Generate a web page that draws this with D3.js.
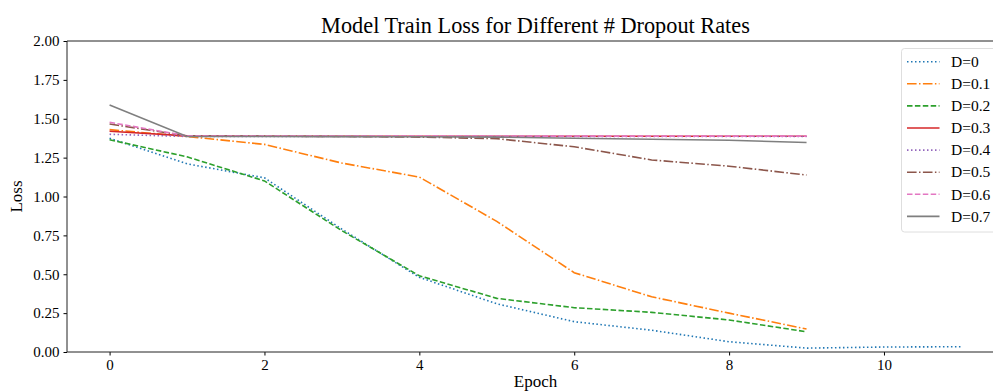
<!DOCTYPE html>
<html>
<head>
<meta charset="utf-8">
<script src="https://cdn.jsdelivr.net/npm/d3@7"></script>
<style>
  html, body { margin: 0; padding: 0; background: #fff; }
  svg { display: block; font-family: "Liberation Serif", "DejaVu Serif", serif; }
</style>
</head>
<body>
<div id="chart"></div>
<script>
// --- data ---
const labels = ['D=0', 'D=0.1', 'D=0.2', 'D=0.3', 'D=0.4', 'D=0.5', 'D=0.6', 'D=0.7'];
const colors = ['#1f77b4', '#ff7f0e', '#2ca02c', '#d62728', '#9467bd', '#8c564b', '#e377c2', '#7f7f7f'];
const dashes = ['1.5,2.5', '9.6,2.4,1.5,2.4', '5.5,2.4', null, '1.5,2.5', '9.6,2.4,1.5,2.4', '5.5,2.4', null];

const d0  = [1.375, 1.21, 1.12, 0.79, 0.48, 0.31, 0.195, 0.14, 0.066, 0.025, 0.032, 0.034];
const d01 = [1.43, 1.386, 1.335, 1.215, 1.125, 0.84, 0.51, 0.355, 0.25, 0.148];
const d02 = [1.365, 1.255, 1.10, 0.78, 0.49, 0.345, 0.285, 0.255, 0.206, 0.13];
const d03 = [1.42, 1.39, 1.387, 1.387, 1.387, 1.387, 1.387, 1.387, 1.387, 1.387];
const d04 = [1.40, 1.386, 1.386, 1.386, 1.386, 1.386, 1.386, 1.386, 1.386, 1.386];
const d05 = [1.466, 1.39, 1.388, 1.386, 1.382, 1.372, 1.32, 1.235, 1.195, 1.138];
const d06 = [1.477, 1.39, 1.388, 1.388, 1.388, 1.388, 1.388, 1.388, 1.388, 1.388];
const d07 = [1.588, 1.386, 1.386, 1.385, 1.384, 1.382, 1.375, 1.368, 1.362, 1.347];
const series = [d0, d01, d02, d03, d04, d05, d06, d07];

const xTicks = [0, 2, 4, 6, 8, 10];
const yTicks = [0, 0.25, 0.5, 0.75, 1.0, 1.25, 1.5, 1.75, 2.0];

const width = 993, height = 392;
const plot = { left: 67, top: 41, bottom: 352, right: 1004 };

const svg = d3.select('#chart').append('svg')
  .attr('width', width)
  .attr('height', height);

const x = d3.scaleLinear().domain([-0.55, 11.55]).range([plot.left, plot.right]);
const y = d3.scaleLinear().domain([0, 2]).range([plot.bottom, plot.top]);

// axes
const gx = svg.append('g')
  .attr('transform', `translate(0,${plot.bottom})`)
  .call(d3.axisBottom(x).tickValues(xTicks).tickSize(3.5).tickPadding(4).tickFormat(d3.format('d')));
const gy = svg.append('g')
  .attr('transform', `translate(${plot.left},0)`)
  .call(d3.axisLeft(y).tickValues(yTicks).tickSize(3.5).tickPadding(4).tickFormat(d3.format('.2f')));
for (const g of [gx, gy]) {
  g.select('.domain').remove();
  g.selectAll('.tick line').attr('stroke', '#000').attr('stroke-width', 1);
  g.selectAll('.tick text').attr('fill', '#000').style('font-size', '15px').style('font-family', 'Liberation Serif');
}

// spines (right one falls off the canvas)
svg.append('path')
  .attr('d', `M${plot.right},${plot.top}H${plot.left}V${plot.bottom}H${plot.right}`)
  .attr('fill', 'none')
  .attr('stroke', '#222')
  .attr('stroke-width', 1);

// lines
const line = d3.line()
  .x((d, i) => x(i))
  .y(d => y(d));

series.forEach((vals, k) => {
  svg.append('path')
    .datum(vals)
    .attr('fill', 'none')
    .attr('stroke', colors[k])
    .attr('stroke-width', 1.6)
    .attr('stroke-dasharray', dashes[k])
    .attr('d', line);
});

// title + axis labels
svg.append('text')
  .attr('x', (plot.left + plot.right) / 2)
  .attr('y', 33)
  .attr('text-anchor', 'middle')
  .style('font-size', '22.3px')
  .text('Model Train Loss for Different # Dropout Rates');

svg.append('text')
  .attr('x', (plot.left + plot.right) / 2)
  .attr('y', 387)
  .attr('text-anchor', 'middle')
  .style('font-size', '17px')
  .text('Epoch');

svg.append('text')
  .attr('transform', `translate(22,${(plot.top + plot.bottom) / 2}) rotate(-90)`)
  .attr('text-anchor', 'middle')
  .style('font-size', '17px')
  .text('Loss');

// legend
const lg = svg.append('g').attr('transform', 'translate(901.5,48.5)');
lg.append('rect')
  .attr('width', 96)
  .attr('height', 183.5)
  .attr('rx', 3)
  .attr('fill', '#fff')
  .attr('fill-opacity', 0.8)
  .attr('stroke', '#d6d6d6')
  .attr('stroke-width', 0.8);

labels.forEach((lab, k) => {
  const cy = 13.2 + k * 22.1;
  lg.append('line')
    .attr('x1', 5.5).attr('x2', 38)
    .attr('y1', cy).attr('y2', cy)
    .attr('stroke', colors[k])
    .attr('stroke-width', 1.6)
    .attr('stroke-dasharray', dashes[k]);
  lg.append('text')
    .attr('x', 49.5)
    .attr('y', cy + 5.2)
    .style('font-size', '15.5px')
    .text(lab);
});
</script>
</body>
</html>
